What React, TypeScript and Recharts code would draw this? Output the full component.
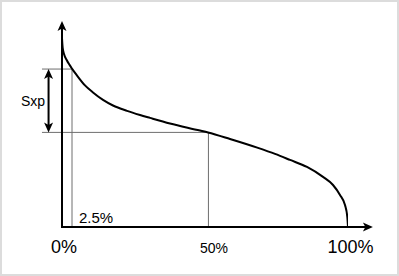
import React from 'react';
import { ComposedChart, Line, XAxis, YAxis, ReferenceLine } from 'recharts';

// Curve: x = percentile (%), y = relative stress level (0..100 of axis height)
const percentile = [0, 0.24, 0.7, 1.64, 2.45, 3.6, 5.14, 8.04, 10.84, 14.34, 17.83, 22.73, 27.27, 30.77, 37.76, 48.25, 51.05, 58.74, 68.53, 74.48, 79.72, 85.66, 91.26, 94.76, 97.2, 98.95, 99.76, 100];
const stress = [91.3, 86.5, 83.6, 80.7, 78.7, 76.3, 73.4, 68.4, 65.0, 61.4, 58.7, 56.1, 54.1, 52.7, 50.0, 46.6, 45.65, 42.5, 38.2, 35.3, 32.4, 29.0, 24.2, 20.3, 15.5, 10.6, 4.8, 0];

const tickValues = [0, 50, 100];
const tickLabels = ['0%', '50%', '100%'];
const tickSizes = [18, 14, 18];
const tickShift = [2, 9, 2.5];

// marker positions
const lowPct = 3.5;
const lowLabel = '2.5%';
const midPct = 51.2;
const sxpTop = 76.3;
const sxpBottom = 45.7;
const sxpX = -4.7;
const guideStart = -7;
const xAxisStart = -0.35;
const xAxisEnd = 108.7;
const yAxisEnd = 99.5;
const sxpLabel = 'Sxp';

const data = percentile.map((p, i) => ({ p, s: stress[i] }));

const FONT = '"Liberation Sans", Arial, Helvetica, sans-serif';

const Tick = (props: any) => {
  const { x, y, payload } = props;
  const i = tickValues.indexOf(payload.value);
  if (i < 0) return null;
  return (
    <text x={x + tickShift[i]} y={y + 26} textAnchor="middle" fontSize={tickSizes[i]} fontFamily={FONT} fill="#000">
      {tickLabels[i]}
    </text>
  );
};

const YArrow = (p: any) => {
  const top = Math.min(p.y1, p.y2);
  const bottom = Math.max(p.y1, p.y2);
  const x = p.x1;
  return (
    <g>
      <line x1={x} y1={bottom} x2={x} y2={top + 7} stroke="#000" strokeWidth={2} />
      <path d={`M${x},${top} L${x - 4.5},${top + 10} L${x},${top + 7.5} L${x + 4.5},${top + 10} Z`} fill="#000" />
    </g>
  );
};

const XArrow = (p: any) => {
  const left = Math.min(p.x1, p.x2);
  const right = Math.max(p.x1, p.x2);
  const y = p.y1;
  return (
    <g>
      <line x1={left} y1={y} x2={right - 7} y2={y} stroke="#000" strokeWidth={2} />
      <path d={`M${right},${y} L${right - 10},${y - 4.5} L${right - 7.5},${y} L${right - 10},${y + 4.5} Z`} fill="#000" />
    </g>
  );
};

const DoubleArrow = (p: any) => {
  const top = Math.min(p.y1, p.y2);
  const bottom = Math.max(p.y1, p.y2);
  const x = p.x1;
  return (
    <g>
      <line x1={x} y1={top + 7} x2={x} y2={bottom - 7} stroke="#000" strokeWidth={2} />
      <path d={`M${x},${top} L${x - 4.5},${top + 10} L${x},${top + 7.5} L${x + 4.5},${top + 10} Z`} fill="#000" />
      <path d={`M${x},${bottom} L${x - 4.5},${bottom - 10} L${x},${bottom - 7.5} L${x + 4.5},${bottom - 10} Z`} fill="#000" />
      <text x={x - 3.5} y={(top + bottom) / 2 + 5.5} textAnchor="end" fontSize={14} fontFamily={FONT} fill="#000">
        {sxpLabel}
      </text>
    </g>
  );
};

const LowLine = (p: any) => {
  const bottom = Math.max(p.y1, p.y2);
  return (
    <g>
      <line x1={p.x1} y1={p.y1} x2={p.x2} y2={p.y2} stroke="#6e6e6e" strokeWidth={1} />
      <text x={p.x1 + 7} y={bottom - 4} textAnchor="start" fontSize={15} fontFamily={FONT} fill="#000">
        {lowLabel}
      </text>
    </g>
  );
};

export default function App() {
  return (
    <div
      style={{
        position: 'absolute',
        left: 0,
        top: 0,
        width: 399,
        height: 276,
        background: '#fff',
        boxShadow: 'inset 0 0 0 2px #dcdcdc',
      }}
    >
      <ComposedChart width={399} height={276} data={data} margin={{ top: 20, right: 51, bottom: 19, left: 62 }}>
        <XAxis
          type="number"
          dataKey="p"
          domain={[0, 100]}
          ticks={tickValues}
          interval={0}
          height={30}
          axisLine={false}
          tickLine={false}
          tickSize={0}
          tickMargin={0}
          tick={<Tick />}
          allowDataOverflow
        />
        <YAxis type="number" domain={[0, 100]} hide allowDataOverflow />
        <ReferenceLine
          segment={[{ x: guideStart, y: sxpTop }, { x: lowPct, y: sxpTop }]}
          stroke="#6e6e6e"
          strokeWidth={1}
          ifOverflow="visible"
        />
        <ReferenceLine
          segment={[{ x: guideStart, y: sxpBottom }, { x: midPct, y: sxpBottom }]}
          stroke="#6e6e6e"
          strokeWidth={1}
          ifOverflow="visible"
        />
        <ReferenceLine
          segment={[{ x: lowPct, y: 0 }, { x: lowPct, y: sxpTop }]}
          ifOverflow="visible"
          shape={LowLine}
        />
        <ReferenceLine
          segment={[{ x: midPct, y: 0 }, { x: midPct, y: sxpBottom }]}
          stroke="#6e6e6e"
          strokeWidth={1}
          ifOverflow="visible"
        />
        <ReferenceLine
          segment={[{ x: sxpX, y: sxpBottom }, { x: sxpX, y: sxpTop }]}
          ifOverflow="visible"
          shape={DoubleArrow}
        />
        <Line
          type="monotone"
          dataKey="s"
          stroke="#000"
          strokeWidth={2}
          dot={false}
          activeDot={false}
          isAnimationActive={false}
        />
        <ReferenceLine
          segment={[{ x: 0, y: 0 }, { x: 0, y: yAxisEnd }]}
          ifOverflow="visible"
          shape={YArrow}
        />
        <ReferenceLine
          segment={[{ x: xAxisStart, y: 0 }, { x: xAxisEnd, y: 0 }]}
          ifOverflow="visible"
          shape={XArrow}
        />
      </ComposedChart>
    </div>
  );
}
